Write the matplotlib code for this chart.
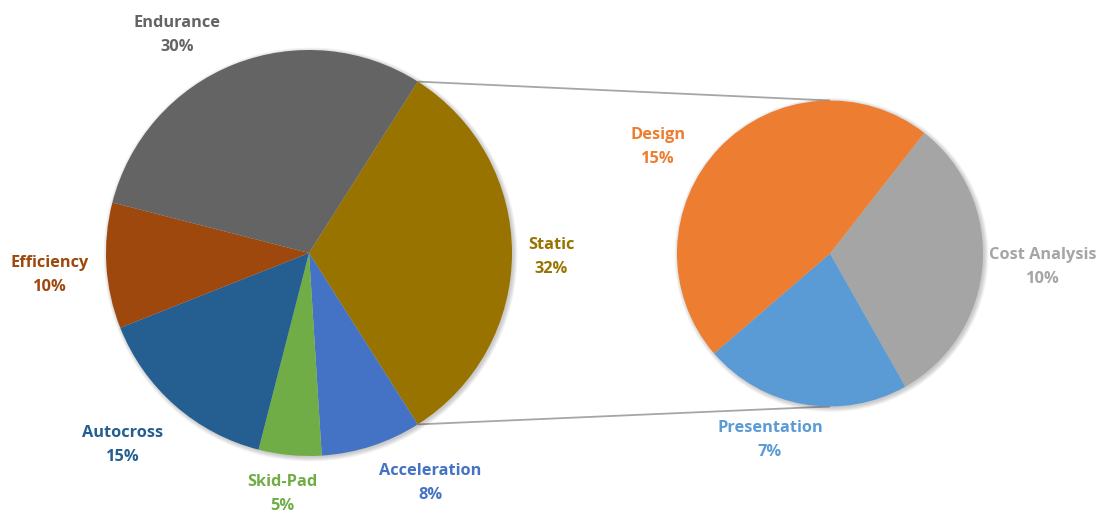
import numpy as np
import matplotlib
matplotlib.use("Agg")
import matplotlib.pyplot as plt
from matplotlib.patches import Circle

# Main pie: event shares of total score (Static is split out below)
main_labels = ["Static", "Acceleration", "Skid-Pad", "Autocross", "Efficiency", "Endurance"]
main_values = [32, 8, 5, 15, 10, 30]
main_colors = ["#997300", "#4472C4", "#70AD47", "#255E91", "#9E480E", "#646464"]

# Secondary pie: breakdown of the Static events
sub_labels = ["Cost Analysis", "Presentation", "Design"]
sub_values = [10, 7, 15]
sub_colors = ["#A5A5A5", "#5B9BD5", "#ED7D31"]

W, H = 1102, 513
fig = plt.figure(figsize=(W / 100, H / 100), dpi=100)
ax = fig.add_axes([0, 0, 1, 1])

main_c = (309, 260)
main_r = 203
sub_c = (830, 259.5)
sub_r = 153

static_half = main_values[0] / sum(main_values) * 360 / 2


def soft_shadow(center, r):
    for k in range(6):
        ax.add_patch(Circle((center[0] + 1.5, center[1] - 1.5), r + 0.8 * k,
                            facecolor="black", edgecolor="none",
                            alpha=0.035, zorder=1))


soft_shadow(main_c, main_r)
soft_shadow(sub_c, sub_r)

wedge_kw = dict(linewidth=0, edgecolor="none", zorder=2)
w1, _ = ax.pie(main_values, colors=main_colors, startangle=static_half,
               counterclock=False, center=main_c, radius=main_r,
               wedgeprops=wedge_kw, frame=True)
w2, _ = ax.pie(sub_values, colors=sub_colors, startangle=52,
               counterclock=False, center=sub_c, radius=sub_r,
               wedgeprops=wedge_kw, frame=True)
for w in list(w1) + list(w2):
    w.set_zorder(3)

ax.set_xlim(0, W)
ax.set_ylim(0, H)
ax.set_aspect("equal")
ax.axis("off")

# Connector lines from the Static wedge edges to the secondary pie
a = np.deg2rad(static_half)
top_start = (main_c[0] + main_r * np.cos(a), main_c[1] + main_r * np.sin(a))
bot_start = (main_c[0] + main_r * np.cos(-a), main_c[1] + main_r * np.sin(-a))
top_end = (sub_c[0], sub_c[1] + sub_r)
bot_end = (sub_c[0], sub_c[1] - sub_r)
for s, e in [(top_start, top_end), (bot_start, bot_end)]:
    ax.plot([s[0], e[0]], [s[1], e[1]], color="#A6A6A6", lw=1.3,
            zorder=0.5, solid_capstyle="butt")

font = ["Open Sans", "DejaVu Sans"]
label_pos = {
    "Endurance": (177, 478),
    "Static": (551, 256),
    "Efficiency": (50, 238),
    "Autocross": (123, 68),
    "Skid-Pad": (282, 19),
    "Acceleration": (430, 30),
    "Design": (658, 366),
    "Cost Analysis": (1043, 246),
    "Presentation": (770, 73),
}

for lab, val, col in zip(main_labels + sub_labels, main_values + sub_values,
                         main_colors + sub_colors):
    x, y = label_pos[lab]
    ax.text(x, y, f"{lab}\n{val}%", color=col, fontsize=11.8, fontweight="bold",
            family=font, ha="center", va="center", linespacing=1.7, zorder=5)

fig.savefig("out.png", dpi=100, facecolor="white")
